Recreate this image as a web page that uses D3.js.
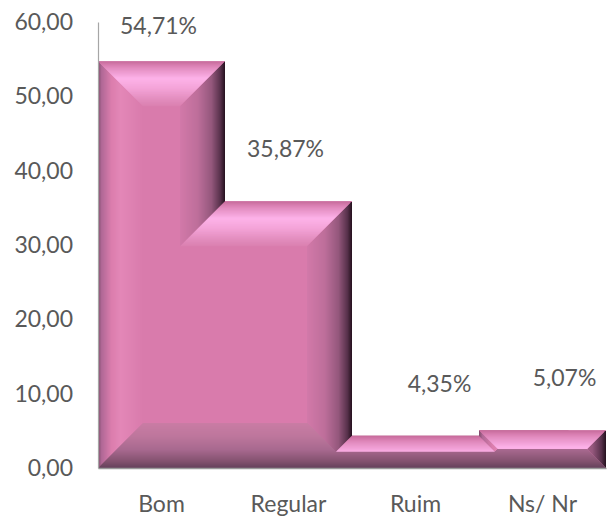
<!DOCTYPE html>
<html>
<head>
<meta charset="utf-8">
<script src="https://cdn.jsdelivr.net/npm/d3@7"></script>
<style>
  body { margin: 0; background: #fff; }
  text { font-family: Lato, "Open Sans", sans-serif; }
</style>
</head>
<body>
<div id="chart"></div>
<script>
// Dados do gráfico
const categories = ["Bom", "Regular", "Ruim", "Ns/ Nr"];
const values = [54.71, 35.87, 4.35, 5.07];
const valueLabels = ["54,71%", "35,87%", "4,35%", "5,07%"];
const yTicks = [0, 10, 20, 30, 40, 50, 60];

const width = 607;
const height = 517;
const margin = { top: 22, right: 1, bottom: 49, left: 98 };
const bevel = 45;          // profundidade do chanfro
const labelGap = 44;
const labelDx = [-3, -3, 24, 22];

// cores do chanfro, de fora (0) para dentro (1)
const faceColor = "#d97bac";
const shades = {
    top:    [[0, "#c66a9a"], [0.12, "#de86b9"], [0.38, "#fdb3e9"], [0.6, "#f4a4d8"], [0.85, "#e28cbd"], [1, "#da80b0"]],
    left:   [[0, "#7e4a6a"], [0.08, "#b06896"], [0.3, "#db7dad"], [0.5, "#e387b7"], [1, "#d97bac"]],
    right:  [[0, "#24101e"], [0.1, "#56304a"], [0.3, "#94577c"], [0.6, "#bd6e9a"], [1, "#d279a9"]],
    bottom: [[0, "#64405a"], [0.15, "#83526f"], [0.4, "#a7688e"], [0.7, "#bd769c"], [1, "#c97ca4"]]
};
const shadeScale = {};
Object.keys(shades).forEach(k => {
    shadeScale[k] = d3.scaleLinear()
        .domain(shades[k].map(s => s[0]))
        .range(shades[k].map(s => s[1]))
        .interpolate(d3.interpolateRgb)
        .clamp(true);
});

const ptBR = d3.formatLocale({ decimal: ",", thousands: ".", grouping: [3], currency: ["R$", ""] });
const fmt = ptBR.format(".2f");

const svg = d3.select("#chart").append("svg")
    .attr("width", width)
    .attr("height", height);

const x = d3.scaleBand()
    .domain(categories)
    .range([margin.left, width - margin.right])
    .padding(0);

const y = d3.scaleLinear()
    .domain([0, 60])
    .range([height - margin.bottom, margin.top]);

// Contorno das barras unidas (sem espaço entre elas)
const base = y(0);
let outline = [[x(categories[0]), base]];
categories.forEach((c, i) => {
    outline.push([x(c), y(values[i])]);
    outline.push([x(c) + x.bandwidth(), y(values[i])]);
});
outline.push([x(categories[categories.length - 1]) + x.bandwidth(), base]);
// remove pontos repetidos e colineares
outline = outline.filter((p, i) => {
    const q = outline[(i + outline.length - 1) % outline.length];
    return !(Math.abs(p[0] - q[0]) < 1e-6 && Math.abs(p[1] - q[1]) < 1e-6);
});
outline = outline.filter((p, i) => {
    const a = outline[(i + outline.length - 1) % outline.length];
    const b = outline[(i + 1) % outline.length];
    const cr = (p[0] - a[0]) * (b[1] - p[1]) - (p[1] - a[1]) * (b[0] - p[0]);
    return Math.abs(cr) > 1e-6;
});

// arestas com normal para dentro e tipo de canto (convexo / reflexo)
const N = outline.length;
const edges = outline.map((P, i) => {
    const Q = outline[(i + 1) % N];
    const L = Math.hypot(Q[0] - P[0], Q[1] - P[1]);
    const u = [(Q[0] - P[0]) / L, (Q[1] - P[1]) / L];
    const n = [-u[1], u[0]];
    return { P, Q, L, u, n };
});
edges.forEach((e, i) => {
    const prev = edges[(i + N - 1) % N];
    const next = edges[(i + 1) % N];
    const crossP = prev.u[0] * e.u[1] - prev.u[1] * e.u[0];
    const crossQ = e.u[0] * next.u[1] - e.u[1] * next.u[0];
    e.sP = crossP > 0 ? 1 : -1;
    e.sQ = crossQ > 0 ? 1 : -1;
    const shrink = e.sP + e.sQ;
    e.tMax = shrink > 0 ? Math.min(bevel, e.L / shrink) : bevel;
    if (e.n[0] > 0.5) e.dir = "left";
    else if (e.n[0] < -0.5) e.dir = "right";
    else if (e.n[1] > 0.5) e.dir = "top";
    else e.dir = "bottom";
});

function front(e, t) {
    return [
        [e.P[0] + t * e.n[0] + e.sP * t * e.u[0], e.P[1] + t * e.n[1] + e.sP * t * e.u[1]],
        [e.Q[0] + t * e.n[0] - e.sQ * t * e.u[0], e.Q[1] + t * e.n[1] - e.sQ * t * e.u[1]]
    ];
}

// fatias do chanfro: as mais fundas primeiro, as mais rasas por cima
const step = 1;
const slices = [];
for (let k = Math.ceil(bevel / step) - 1; k >= 0; k--) {
    edges.forEach(e => {
        const t0 = k * step;
        if (t0 >= e.tMax) return;
        const t1 = Math.min((k + 1) * step, e.tMax);
        const a = front(e, t0 - 0.6);
        const b = front(e, t1);
        slices.push({
            pts: [a[0], a[1], b[1], b[0]],
            color: shadeScale[e.dir](((t0 + t1) / 2) / bevel)
        });
    });
}

svg.append("clipPath")
    .attr("id", "bars-clip")
    .append("polygon")
    .attr("points", outline.map(p => p.join(",")).join(" "));

const bars = svg.append("g").attr("clip-path", "url(#bars-clip)");

bars.append("polygon")
    .attr("points", outline.map(p => p.join(",")).join(" "))
    .attr("fill", faceColor);

bars.selectAll("polygon.slice")
    .data(slices)
    .join("polygon")
    .attr("class", "slice")
    .attr("points", d => d.pts.map(p => p.join(",")).join(" "))
    .attr("fill", d => d.color);

// Eixos
const yAxis = svg.append("g")
    .attr("transform", `translate(${margin.left},0)`)
    .call(d3.axisLeft(y).tickValues(yTicks).tickFormat(fmt).tickSize(0).tickSizeOuter(0).tickPadding(25));
yAxis.select(".domain").attr("stroke", "#a6a6a6").attr("stroke-width", 1.2);
yAxis.selectAll("text").attr("font-size", 23).attr("fill", "#595959");

const xAxis = svg.append("g")
    .attr("transform", `translate(0,${base})`)
    .call(d3.axisBottom(x).tickSize(0).tickSizeOuter(0).tickPadding(28));
xAxis.select(".domain").attr("stroke", "#9a9a9a").attr("stroke-width", 1.6);
xAxis.selectAll("text").attr("font-size", 23).attr("fill", "#595959");

// Rótulos de valor
svg.append("g")
    .selectAll("text")
    .data(values)
    .join("text")
    .attr("x", (d, i) => x(categories[i]) + x.bandwidth() / 2 + labelDx[i])
    .attr("y", d => Math.max(y(d) - labelGap, y(60) + 12))
    .attr("text-anchor", "middle")
    .attr("font-size", 23)
    .attr("fill", "#595959")
    .text((d, i) => valueLabels[i]);
</script>
</body>
</html>
